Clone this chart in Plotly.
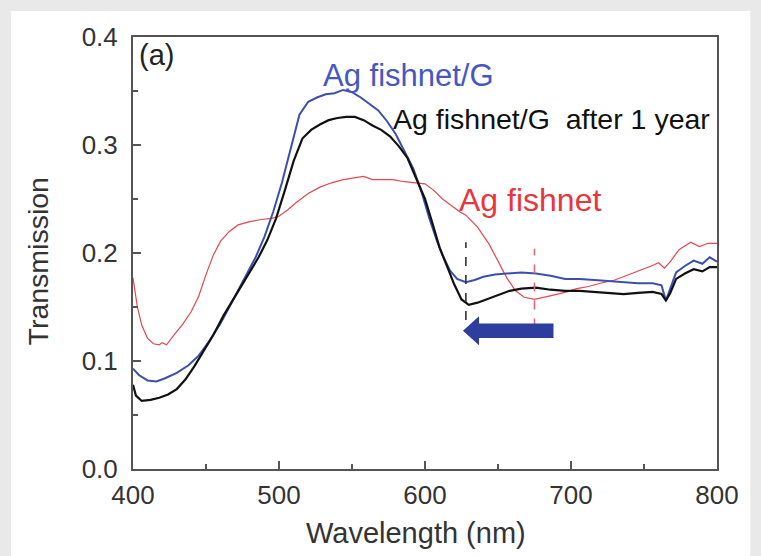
import plotly.graph_objects as go

# ---------------- data ----------------
wl_blue = [400, 404, 410, 416, 422, 430, 438, 445, 452, 460, 468, 476, 484, 490, 496, 502, 508, 514,
           520, 526, 532, 538, 544, 550, 556, 562, 568, 574, 580, 586, 592, 598, 603, 608, 612, 617,
           622, 628, 634, 640, 648, 656, 666, 676, 686, 696, 706, 716, 726, 736, 746, 756, 762, 765,
           768, 772, 778, 784, 790, 795, 800]
t_blue = [0.093, 0.087, 0.082, 0.081, 0.084, 0.089, 0.096, 0.105, 0.118, 0.135, 0.155, 0.175, 0.196,
          0.215, 0.238, 0.265, 0.297, 0.328, 0.340, 0.344, 0.347, 0.348, 0.351, 0.349, 0.344, 0.338,
          0.332, 0.322, 0.310, 0.294, 0.278, 0.255, 0.232, 0.212, 0.198, 0.184, 0.176, 0.173, 0.175,
          0.178, 0.180, 0.181, 0.182, 0.181, 0.179, 0.176, 0.176, 0.175, 0.174, 0.173, 0.172, 0.172,
          0.170, 0.156, 0.168, 0.182, 0.188, 0.193, 0.190, 0.196, 0.192]

wl_black = [400, 402, 406, 412, 418, 424, 430, 436, 442, 448, 455, 462, 470, 478, 486, 492, 498, 504,
            510, 516, 522, 528, 534, 540, 546, 552, 558, 564, 570, 576, 582, 588, 594, 600, 605, 610,
            615, 620, 625, 630, 636, 642, 650, 658, 666, 676, 686, 696, 706, 716, 726, 736, 746, 756,
            762, 765, 768, 772, 778, 784, 790, 795, 800]
t_black = [0.078, 0.068, 0.063, 0.064, 0.066, 0.069, 0.074, 0.083, 0.095, 0.108, 0.124, 0.142, 0.160,
           0.178, 0.196, 0.212, 0.232, 0.258, 0.285, 0.306, 0.314, 0.319, 0.323, 0.325, 0.326, 0.326,
           0.323, 0.318, 0.314, 0.308, 0.299, 0.288, 0.269, 0.250, 0.228, 0.205, 0.188, 0.171, 0.157,
           0.152, 0.154, 0.157, 0.161, 0.165, 0.167, 0.168, 0.166, 0.165, 0.165, 0.164, 0.163, 0.162,
           0.163, 0.164, 0.162, 0.156, 0.163, 0.176, 0.181, 0.185, 0.183, 0.187, 0.187]

wl_red = [400, 403, 406, 410, 414, 418, 420, 423, 428, 434, 440, 445, 450, 455, 460, 466, 472, 480,
          488, 495, 500, 506, 512, 520, 528, 536, 544, 552, 558, 564, 570, 578, 586, 594, 600, 606,
          612, 618, 624, 628, 636, 644, 650, 656, 662, 668, 675, 682, 688, 697, 704, 712, 720, 730,
          740, 748, 755, 760, 764, 768, 774, 782, 788, 794, 800]
t_red = [0.177, 0.150, 0.133, 0.121, 0.116, 0.115, 0.117, 0.115, 0.124, 0.134, 0.146, 0.160, 0.180,
         0.198, 0.211, 0.220, 0.226, 0.229, 0.231, 0.232, 0.234, 0.240, 0.247, 0.255, 0.261, 0.265,
         0.268, 0.270, 0.271, 0.268, 0.268, 0.268, 0.266, 0.265, 0.264, 0.258, 0.250, 0.244, 0.238,
         0.235, 0.224, 0.208, 0.193, 0.177, 0.165, 0.159, 0.157, 0.159, 0.161, 0.164, 0.167, 0.169,
         0.172, 0.175, 0.180, 0.184, 0.188, 0.191, 0.186, 0.192, 0.203, 0.210, 0.206, 0.209, 0.209]

x_ticks = [400, 500, 600, 700, 800]
y_ticks = [0.0, 0.1, 0.2, 0.3, 0.4]
y_tick_labels = ["0.0", "0.1", "0.2", "0.3", "0.4"]

label_blue = "Ag fishnet/G"
label_black = "Ag fishnet/G  after 1 year"
label_red = "Ag fishnet"
panel_label = "(a)"
x_title = "Wavelength (nm)"
y_title = "Transmission"

# markers of the dip positions
dip_black = 628
dip_red = 675
arrow_from = 688
arrow_to = 626
arrow_y = 0.128

BLUE = "#3c4fb0"
BLUE_TXT = "#4558c2"
RED = "#e5484e"
RED_TXT = "#e8363c"
FONT = "Liberation Sans, Arial, sans-serif"

fig = go.Figure()

fig.add_trace(go.Scatter(x=wl_red, y=t_red, mode="lines",
                         line=dict(color=RED, width=1.2), showlegend=False))
fig.add_trace(go.Scatter(x=wl_blue, y=t_blue, mode="lines",
                         line=dict(color=BLUE, width=2), showlegend=False))
fig.add_trace(go.Scatter(x=wl_black, y=t_black, mode="lines",
                         line=dict(color="#111111", width=2.2), showlegend=False))

# white page panel on grey background
fig.add_shape(type="rect", xref="paper", yref="paper", x0=-0.209, x1=1.057, y0=-0.3, y1=1.06,
              fillcolor="white", line=dict(width=0), layer="below")

# dashed dip markers
fig.add_shape(type="line", x0=dip_black, x1=dip_black, y0=0.138, y1=0.210,
              line=dict(color="#333333", width=1.6, dash="dash"))
fig.add_shape(type="line", x0=dip_red, x1=dip_red, y0=0.131, y1=0.204,
              line=dict(color="#e06a78", width=1.6, dash="dash"))

# thick blue arrow
hh = 0.0135
bh = 0.0068
head_len = 11
path = (f"M {arrow_to},{arrow_y} L {arrow_to + head_len},{arrow_y + hh} "
        f"L {arrow_to + head_len},{arrow_y + bh} L {arrow_from},{arrow_y + bh} "
        f"L {arrow_from},{arrow_y - bh} L {arrow_to + head_len},{arrow_y - bh} "
        f"L {arrow_to + head_len},{arrow_y - hh} Z")
fig.add_shape(type="path", path=path, fillcolor="#2e3e9e", line=dict(width=0))

fig.add_annotation(x=403.0, y=0.4, text=panel_label, showarrow=False, xanchor="left", yanchor="top",
                   font=dict(family=FONT, size=29, color="#222222"), yshift=0)
fig.add_annotation(x=529.0, y=0.364, text=label_blue, showarrow=False, xanchor="left", yanchor="middle",
                   font=dict(family=FONT, size=31, color=BLUE_TXT))
fig.add_annotation(x=577.0, y=0.324, text=label_black, showarrow=False, xanchor="left", yanchor="middle",
                   font=dict(family=FONT, size=28.5, color="#111111"))
fig.add_annotation(x=622.0, y=0.249, text=label_red, showarrow=False, xanchor="left", yanchor="middle",
                   font=dict(family=FONT, size=32, color=RED_TXT))

# axis titles placed as paper annotations
fig.add_annotation(xref="paper", yref="paper", x=0.4846, y=-0.148, text=x_title, showarrow=False,
                   xanchor="center", yanchor="middle",
                   font=dict(family=FONT, size=29, color="#333333"))
fig.add_annotation(xref="paper", yref="paper", x=-0.163, y=0.48, text=y_title, showarrow=False,
                   xanchor="center", yanchor="middle", textangle=-90,
                   font=dict(family=FONT, size=28.5, color="#333333"))

axis_common = dict(showline=True, linecolor="#555555", linewidth=2, mirror=True,
                   ticks="inside", tickcolor="#555555", tickwidth=1.5, ticklen=8,
                   showgrid=False, zeroline=False,
                   tickfont=dict(family=FONT, size=26, color="#333333"))

fig.update_xaxes(range=[400, 800], tickvals=x_ticks, ticktext=[str(v) for v in x_ticks],
                 minor=dict(ticks="inside", ticklen=5, dtick=50, tickcolor="#555555", tickwidth=1.5),
                 ticklabelstandoff=2, **axis_common)
fig.update_yaxes(range=[0, 0.4], tickvals=y_ticks, ticktext=y_tick_labels,
                 minor=dict(ticks="inside", ticklen=5, dtick=0.05, tickcolor="#555555", tickwidth=1.5),
                 ticklabelstandoff=8, **axis_common)

fig.update_layout(width=761, height=556, margin=dict(l=133, r=44, t=37, b=87),
                  paper_bgcolor="#e9e9e9", plot_bgcolor="white",
                  font=dict(family=FONT))

fig.write_html("out.html")
